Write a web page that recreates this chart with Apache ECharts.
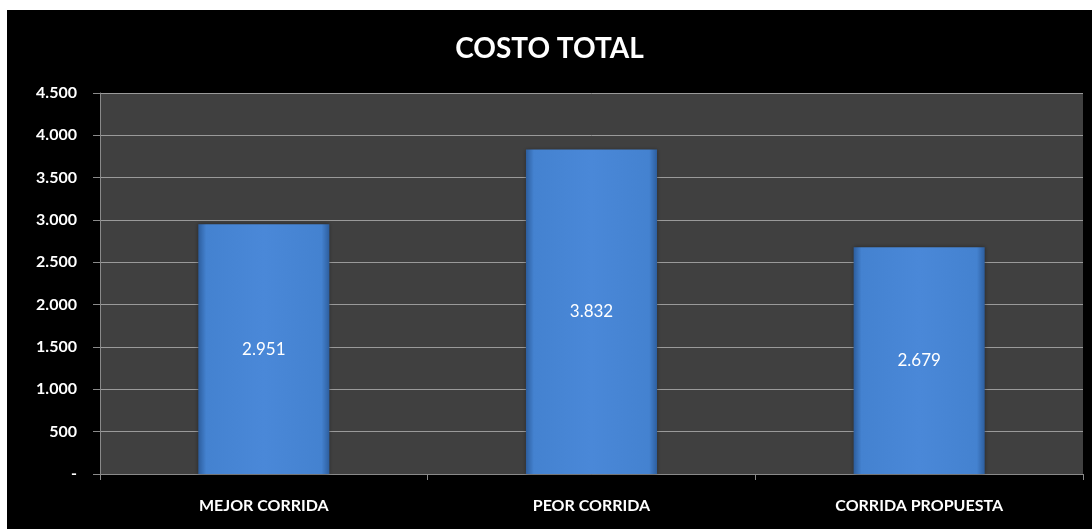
<!DOCTYPE html>
<html>
<head>
<meta charset="utf-8">
<script src="https://cdn.jsdelivr.net/npm/echarts@6/dist/echarts.min.js"></script>
<style>
  html, body { margin: 0; padding: 0; background: #fff; }
  #chart { position: absolute; left: 7px; top: 10px; width: 1085px; height: 519px; background: #000; }
</style>
</head>
<body>
<div id="chart"></div>
<script>
  const categories = ['MEJOR CORRIDA', 'PEOR CORRIDA', 'CORRIDA PROPUESTA']
  const costValues = [2951, 3832, 2679]
  const yTicks = [0, 500, 1000, 1500, 2000, 2500, 3000, 3500, 4000, 4500]

  // miles con punto, cero como guion
  const fmt = v => (v === 0 ? '-' : String(v).replace(/\B(?=(\d{3})+(?!\d))/g, '.'))

  const chart = echarts.init(document.getElementById('chart'))
  const font = 'Lato, "Open Sans", sans-serif'

  const option = {
    backgroundColor: '#000',
    title: {
      text: 'COSTO TOTAL',
      left: 'center',
      top: 20,
      textStyle: { color: '#fff', fontSize: 28, fontWeight: 'bold', fontFamily: font }
    },
    grid: { left: 93, right: 9, top: 83, bottom: 55, backgroundColor: '#404040', show: true, borderWidth: 0 },
    xAxis: {
      type: 'category',
      data: categories,
      axisLine: { lineStyle: { color: '#8a8a8a', width: 1 } },
      axisTick: { show: true, length: 6, lineStyle: { color: '#8a8a8a' } },
      axisLabel: { color: '#fff', fontSize: 16, fontWeight: 'bold', fontFamily: font, margin: 24 }
    },
    yAxis: {
      type: 'value',
      min: yTicks[0],
      max: yTicks[yTicks.length - 1],
      interval: 500,
      axisLine: { show: true, lineStyle: { color: '#8a8a8a' } },
      axisTick: { show: true, length: 7, lineStyle: { color: '#8a8a8a' } },
      splitLine: { lineStyle: { color: '#9a9a9a', width: 1 } },
      axisLabel: { color: '#fff', fontSize: 16, fontWeight: 'bold', fontFamily: font, margin: 23, formatter: fmt }
    },
    series: [
      {
        type: 'bar',
        data: costValues,
        barWidth: '40%',
        itemStyle: {
          color: new echarts.graphic.LinearGradient(0, 0, 1, 0, [
            { offset: 0, color: '#2d5e9e' },
            { offset: 0.06, color: '#4482d0' },
            { offset: 0.5, color: '#4a88d8' },
            { offset: 0.94, color: '#4482d0' },
            { offset: 1, color: '#2d5e9e' }
          ]),
          shadowColor: 'rgba(0,0,0,0.4)',
          shadowBlur: 4
        },
        label: {
          show: true,
          position: 'inside',
          color: '#fff',
          fontSize: 17,
          fontFamily: font,
          formatter: p => fmt(p.value)
        }
      }
    ]
  }
  chart.setOption(option)
</script>
</body>
</html>
